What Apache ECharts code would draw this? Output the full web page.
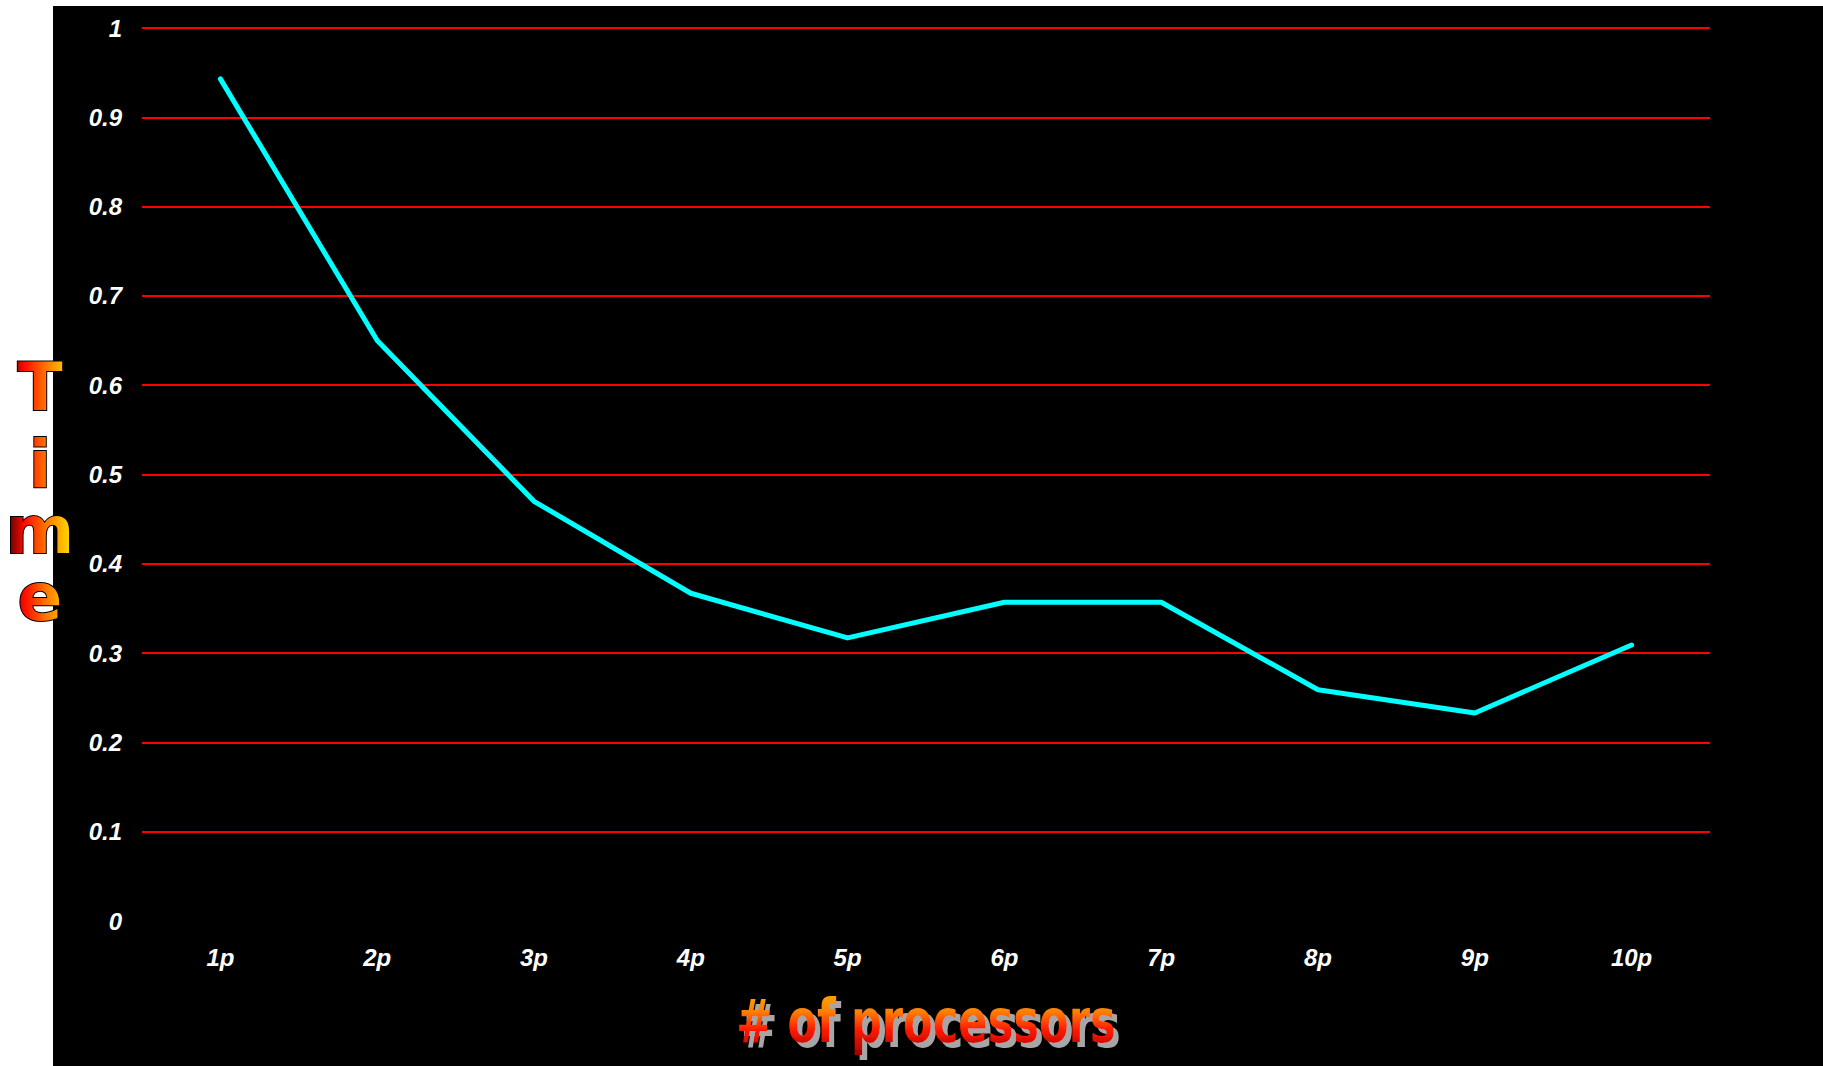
<!DOCTYPE html>
<html><head><meta charset="utf-8">
<script src="https://cdn.jsdelivr.net/npm/echarts@6/dist/echarts.min.js"></script>
<style>
html,body{margin:0;padding:0;background:#fff;width:1823px;height:1066px;overflow:hidden}
#bg{position:absolute;left:53px;top:6px;right:0;bottom:0;background:#000}
#chart{position:absolute;left:0;top:0;width:1823px;height:1066px}
#fx{position:absolute;left:0;top:0;width:0;height:0}
</style></head><body>
<svg id="fx" xmlns="http://www.w3.org/2000/svg" width="0" height="0">
  <defs>
    <linearGradient id="letterGrad" gradientUnits="userSpaceOnUse" x1="8" y1="0" x2="73" y2="0">
      <stop offset="0" stop-color="#5a0000"/>
      <stop offset="0.25" stop-color="#ff0a00"/>
      <stop offset="0.6" stop-color="#ff7a00"/>
      <stop offset="1" stop-color="#ffe600"/>
    </linearGradient>
    <linearGradient id="nameGrad" x1="0" y1="0" x2="0" y2="1">
      <stop offset="0" stop-color="#f2b400"/>
      <stop offset="0.35" stop-color="#ff8000"/>
      <stop offset="0.62" stop-color="#ff1800"/>
      <stop offset="1" stop-color="#9a0000"/>
    </linearGradient>
    <filter id="nameShadow" x="-10%" y="-30%" width="130%" height="170%">
      <feOffset in="SourceAlpha" dx="6" dy="5" result="off"/>
      <feFlood flood-color="#a6a6a6" result="col"/>
      <feComposite in="col" in2="off" operator="in" result="sh"/>
      <feMerge><feMergeNode in="sh"/><feMergeNode in="SourceGraphic"/></feMerge>
    </filter>
  </defs>
</svg>
<div id="bg"></div><div id="chart"></div>
<script>
// ---- data ----
const categories = ['1p', '2p', '3p', '4p', '5p', '6p', '7p', '8p', '9p', '10p'];
const timeValues = [0.943, 0.650, 0.470, 0.367, 0.317, 0.357, 0.357, 0.259, 0.233, 0.309];
const yMin = 0, yMax = 1, yStep = 0.1;
const xAxisTitle = '# of processors';
const yAxisTitleLetters = ['T', 'i', 'm', 'e'];

// ---- styling ----
const letterCenters = [387, 464, 530, 597];
const tickFont = { color: '#ffffff', fontFamily: 'Liberation Sans, Arial, sans-serif', fontWeight: 'bold', fontStyle: 'italic', fontSize: 24 };

const chart = echarts.init(document.getElementById('chart'), null, { renderer: 'svg' });

function applyTextEffects() {
  const svg = document.querySelector('#chart svg');
  if (!svg) return;
  svg.querySelectorAll('text').forEach(t => {
    const s = t.textContent.trim();
    if (s === xAxisTitle) {
      t.setAttribute('fill', 'url(#nameGrad)');
      t.setAttribute('filter', 'url(#nameShadow)');
    } else if (yAxisTitleLetters.indexOf(s) >= 0 && /66px/.test(t.getAttribute('style') || '')) {
      t.setAttribute('fill', 'url(#letterGrad)');
    }
  });
}
chart.on('finished', applyTextEffects);

const titleGraphics = yAxisTitleLetters.map((ch, i) => ({
  type: 'text',
  silent: true,
  style: {
    x: 40, y: letterCenters[i],
    text: ch,
    fill: '#ff5a00',
    stroke: '#000000',
    lineWidth: 2,
    font: 'bold 66px "DejaVu Sans", sans-serif',
    lineHeight: 58,
    textAlign: 'center',
    textVerticalAlign: 'middle'
  }
}));
titleGraphics.push({
  type: 'text',
  silent: true,
  x: 926, y: 1022,
  scaleX: 0.8, scaleY: 1,
  style: {
    x: 0, y: 0,
    text: xAxisTitle,
    fill: '#ff5a00',
    font: 'bold 60px "DejaVu Sans Condensed", "DejaVu Sans", sans-serif',
    textAlign: 'center',
    textVerticalAlign: 'middle'
  }
});

chart.setOption({
  backgroundColor: 'transparent',
  animation: false,
  grid: { left: 142, right: 113, top: 28, bottom: 145, containLabel: false },
  xAxis: {
    type: 'category',
    data: categories,
    boundaryGap: true,
    axisLine: { show: false },
    axisTick: { show: false },
    axisLabel: Object.assign({ margin: 24 }, tickFont)
  },
  yAxis: {
    type: 'value',
    min: yMin, max: yMax, interval: yStep,
    axisLine: { show: false },
    axisTick: { show: false },
    axisLabel: Object.assign({ margin: 20 }, tickFont),
    splitLine: { show: true, showMinLine: false, lineStyle: { color: '#ff0000', width: 2 } }
  },
  series: [{
    type: 'line',
    data: timeValues,
    showSymbol: false,
    symbol: 'none',
    lineStyle: { color: '#00ffff', width: 5, cap: 'round', join: 'round' }
  }],
  graphic: titleGraphics
});
applyTextEffects();
setTimeout(applyTextEffects, 50);
</script></body></html>
